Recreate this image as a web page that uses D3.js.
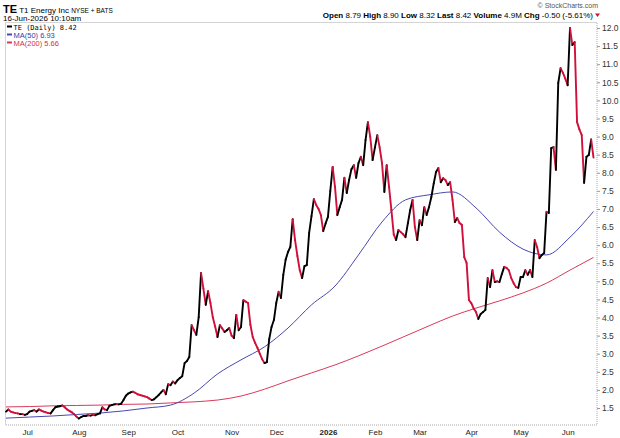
<!DOCTYPE html>
<html>
<head>
<meta charset="utf-8">
<script src="https://cdn.jsdelivr.net/npm/d3@7"></script>
<style>
	body { margin: 0; background: #fff; }
	svg { display: block; font-family: 'Liberation Sans', Arial, sans-serif; }
	text { white-space: pre; }
</style>
</head>
<body>
<div id="chart"></div>
<script>

// daily closes, 17-Jun-2025 .. 16-Jun-2026 (one per trading day)
const closes = [
	1.40, 1.46, 1.40, 1.38, 1.36, 1.35, 1.33, 1.33, 1.31, 1.33,
	1.40, 1.42, 1.44, 1.40, 1.46, 1.43, 1.40, 1.38, 1.36, 1.35,
	1.44, 1.52, 1.54, 1.55, 1.57, 1.52, 1.46, 1.42, 1.38, 1.33,
	1.26, 1.21, 1.25, 1.28, 1.28, 1.30, 1.29, 1.31, 1.30, 1.33,
	1.35, 1.52, 1.46, 1.44, 1.56, 1.58, 1.60, 1.61, 1.60, 1.62,
	1.72, 1.84, 1.90, 1.93, 1.95, 1.92, 1.88, 1.86, 1.84, 1.82,
	1.80, 1.76, 1.72, 1.74, 1.80, 1.86, 1.93, 2.00, 1.88, 2.16,
	2.13, 2.23, 2.18, 2.27, 2.33, 2.38, 2.74, 2.80, 2.91, 3.79,
	3.65, 3.52, 4.01, 5.23, 4.80, 4.35, 4.73, 4.40, 4.01, 3.75,
	3.46, 3.79, 3.70, 3.60, 3.65, 3.71, 3.50, 3.43, 4.07, 3.65,
	3.74, 4.48, 4.44, 4.40, 3.80, 3.46, 3.30, 3.16, 3.00, 2.85,
	2.74, 2.77, 3.40, 3.74, 3.93, 4.40, 4.71, 4.54, 5.18, 5.60,
	5.81, 5.95, 6.72, 6.14, 5.70, 5.31, 5.09, 5.42, 5.45, 6.34,
	6.80, 7.27, 7.11, 7.00, 6.83, 6.39, 6.60, 6.78, 7.50, 8.16,
	7.61, 6.83, 7.05, 7.25, 7.86, 7.44, 7.80, 8.10, 8.21, 7.86,
	8.27, 8.44, 8.21, 8.90, 9.40, 8.99, 8.35, 8.70, 9.04, 8.70,
	8.27, 7.47, 8.21, 7.61, 6.97, 6.30, 6.14, 6.42, 6.36, 6.30,
	6.22, 6.60, 6.97, 7.25, 6.50, 6.14, 6.69, 6.55, 7.05, 6.83,
	7.05, 7.33, 7.70, 8.02, 8.13, 7.74, 7.85, 7.80, 7.66, 7.74,
	7.25, 6.64, 6.75, 6.61, 6.56, 5.67, 5.51, 4.48, 4.40, 4.25,
	4.15, 3.96, 4.10, 4.15, 4.21, 5.09, 4.84, 5.31, 4.98, 5.00,
	4.98, 5.20, 5.40, 5.37, 5.30, 5.09, 4.95, 4.84, 4.82, 5.12,
	5.12, 5.31, 5.18, 5.31, 5.12, 6.14, 5.95, 5.64, 5.73, 5.78,
	6.92, 6.89, 8.68, 8.71, 8.08, 10.48, 10.89, 10.76, 10.60, 10.42,
	12.00, 11.53, 11.61, 9.40, 9.20, 9.04, 7.72, 8.44, 8.49, 8.92,
	8.42
];

// moving averages read every 10 trading days
const maDays = [0, 10, 20, 30, 40, 50, 60, 70, 80, 90, 100, 110, 120, 130, 140, 150, 160, 170, 180, 190, 200, 210, 220, 230, 240, 250];
const ma50 = [1.22, 1.25, 1.28, 1.32, 1.36, 1.42, 1.50, 1.58, 1.91, 2.44, 2.83, 3.19, 3.71, 4.35, 4.87, 5.73, 6.64, 7.25, 7.39, 7.47, 7.03, 6.36, 5.89, 5.73, 6.22, 6.93];
const ma200 = [1.53, 1.54, 1.56, 1.57, 1.58, 1.60, 1.61, 1.64, 1.67, 1.72, 1.83, 2.02, 2.25, 2.47, 2.69, 2.94, 3.21, 3.49, 3.77, 4.04, 4.26, 4.46, 4.68, 4.95, 5.31, 5.66];

// first trading day of each month
const monthDays = [9, 31, 52, 73, 96, 115, 137, 157, 176, 198, 219, 239];
const monthLabels = ['Jul', 'Aug', 'Sep', 'Oct', 'Nov', 'Dec', '2026', 'Feb', 'Mar', 'Apr', 'May', 'Jun'];

const priceTicks = [1.5, 2, 2.5, 3, 3.5, 4, 4.5, 5, 5.5, 6, 6.5, 7, 7.5, 8, 8.5, 9, 9.5, 10, 10.5, 11, 11.5, 12];

const quoteLabels = ['Open', 'High', 'Low', 'Last', 'Volume', 'Chg'];
const quoteValues = ['8.79', '8.90', '8.32', '8.42', '4.9M', '-0.50 (-5.61%)'];


function PriceChart(options) {
	this.element = options.element;

	this.upColor = '#000000';
	this.downColor = '#d0103a';
	this.ma50Color = '#4848b0';
	this.ma200Color = '#d83a5a';

	this.draw();
}


PriceChart.prototype.draw = function() {

	this.width = 620;
	this.height = 438;

	this.createSVG();
	this.createScales();
	this.createFrame();
	this.createAxes();
	this.createAverages();
	this.createPrice();
	this.createHeader();
	this.createLegend();

}


PriceChart.prototype.createSVG = function() {

	this.svg = d3.select(this.element)
		.append('svg')
			.attr('width', this.width)
			.attr('height', this.height);

	this.svg.append('rect')
		.attr('width', this.width)
		.attr('height', this.height)
		.attr('fill', '#fff');

}


PriceChart.prototype.createScales = function() {

	this.xScale = d3.scaleLinear()
		.domain([0, closes.length - 1])
		.range([6, 593.5]);

	this.yScale = d3.scaleLinear()
		.domain([1.5, 12])
		.range([408, 28]);

}


PriceChart.prototype.createFrame = function() {

	this.svg.append('rect')
		.attr('x', 5.5)
		.attr('y', 22.5)
		.attr('width', 591.5)
		.attr('height', 402.5)
		.attr('fill', 'none')
		.attr('stroke', '#a8a8a8')
		.attr('stroke-dasharray', '1,1');

}


PriceChart.prototype.createAxes = function() {

	this.yAxis = d3.axisRight()
		.scale(this.yScale)
		.tickValues(priceTicks)
		.tickFormat(d3.format('.1f'))
		.tickSize(3)
		.tickPadding(2);

	let yG = this.svg.append('g')
		.attr('transform', 'translate(597, 0)')
		.call(this.yAxis);

	yG.select('.domain').remove();
	yG.selectAll('line').attr('stroke', '#999');
	yG.selectAll('text')
		.attr('fill', '#333')
		.style('font-size', '8.5px')
		.style('font-family', "'Liberation Sans', Arial, sans-serif");

	this.xAxis = d3.axisBottom()
		.scale(this.xScale)
		.tickValues(monthDays)
		.tickFormat(function(d, i) {
			return monthLabels[i];
		})
		.tickSize(0)
		.tickPadding(4);

	let xG = this.svg.append('g')
		.attr('transform', 'translate(0, 425)')
		.call(this.xAxis);

	xG.select('.domain').remove();
	xG.selectAll('text')
		.attr('fill', '#222')
		.style('font-size', '8px')
		.style('font-family', "'Liberation Sans', Arial, sans-serif")
		.style('font-weight', function(d, i) {
			return monthLabels[i] == '2026' ? 'bold' : 'normal';
		});

}


PriceChart.prototype.createAverages = function() {

	let that = this;

	let line = d3.line()
		.x(function(d) { return that.xScale(d[0]); })
		.y(function(d) { return that.yScale(d[1]); })
		.curve(d3.curveMonotoneX);

	this.svg.append('path')
		.datum(d3.zip(maDays, ma200))
		.attr('d', line)
		.attr('fill', 'none')
		.attr('stroke', this.ma200Color)
		.attr('stroke-width', 1);

	this.svg.append('path')
		.datum(d3.zip(maDays, ma50))
		.attr('d', line)
		.attr('fill', 'none')
		.attr('stroke', this.ma50Color)
		.attr('stroke-width', 1);

}


PriceChart.prototype.createPrice = function() {

	let that = this;

	let segments = d3.pairs(closes.map(function(c, i) { return [i, c]; }));

	this.svg.append('g')
		.selectAll('line')
		.data(segments)
		.enter().append('line')
			.attr('x1', function(d) { return that.xScale(d[0][0]); })
			.attr('y1', function(d) { return that.yScale(d[0][1]); })
			.attr('x2', function(d) { return that.xScale(d[1][0]); })
			.attr('y2', function(d) { return that.yScale(d[1][1]); })
			.attr('stroke', function(d) {
				return (d[1][1] >= d[0][1]) ? that.upColor : that.downColor;
			})
			.attr('stroke-width', 1.9)
			.attr('stroke-linecap', 'round');

}


PriceChart.prototype.createHeader = function() {

	let title = this.svg.append('text')
		.attr('x', 3)
		.attr('y', 13)
		.attr('fill', '#000');

	title.append('tspan')
		.style('font-size', '11px')
		.style('font-weight', 'bold')
		.text('TE');
	title.append('tspan')
		.style('font-size', '8px')
		.text(' T1 Energy Inc ');
	title.append('tspan')
		.style('font-size', '6.5px')
		.text('NYSE + BATS');

	this.svg.append('text')
		.attr('x', 3)
		.attr('y', 21)
		.attr('fill', '#000')
		.style('font-size', '8px')
		.text('16-Jun-2026 10:10am');

	this.svg.append('text')
		.attr('x', 598)
		.attr('y', 8)
		.attr('text-anchor', 'end')
		.attr('fill', '#555')
		.style('font-size', '7px')
		.text('\u00a9 StockCharts.com');

	let quote = this.svg.append('text')
		.attr('x', 593)
		.attr('y', 18)
		.attr('text-anchor', 'end')
		.attr('fill', '#000')
		.style('font-size', '8px');

	for (let i = 0; i < quoteLabels.length; i++) {
		quote.append('tspan')
			.style('font-weight', 'bold')
			.text(quoteLabels[i] + ' ');
		quote.append('tspan')
			.text(quoteValues[i] + (i < quoteLabels.length - 1 ? ' ' : ''));
	}

	this.svg.append('path')
		.attr('d', 'M595,13.5 L600,13.5 L597.5,17 Z')
		.attr('fill', this.downColor);

}


PriceChart.prototype.createLegend = function() {

	let items = [
		{ label: 'TE (Daily) ' + d3.format('.2f')(closes[closes.length - 1]), color: this.upColor, text: '#000', font: "'DejaVu Sans Mono', monospace", size: '7px' },
		{ label: 'MA(50) ' + d3.format('.2f')(ma50[ma50.length - 1]), color: this.ma50Color, text: '#3a3aa8', font: "'Liberation Sans', Arial, sans-serif", size: '7.5px' },
		{ label: 'MA(200) ' + d3.format('.2f')(ma200[ma200.length - 1]), color: this.ma200Color, text: '#d0304f', font: "'Liberation Sans', Arial, sans-serif", size: '7.5px' }
	];

	let legend = this.svg.append('g')
		.attr('class', 'legend');

	for (let i = 0; i < items.length; i++) {
		legend.append('line')
			.attr('x1', 7)
			.attr('x2', 12)
			.attr('y1', 26.5 + 8 * i)
			.attr('y2', 26.5 + 8 * i)
			.attr('stroke', items[i].color)
			.attr('stroke-width', 2);

		legend.append('text')
			.attr('x', 13.5)
			.attr('y', 29.5 + 8 * i)
			.attr('fill', items[i].text)
			.style('font-family', items[i].font)
			.style('font-size', items[i].size)
			.text(items[i].label);
	}

}


new PriceChart({ element: '#chart' });

</script>
</body>
</html>
